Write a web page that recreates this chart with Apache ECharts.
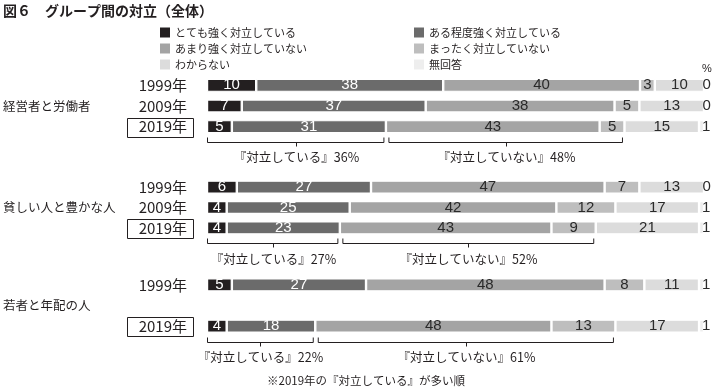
<!DOCTYPE html>
<html>
<head>
<meta charset="utf-8">
<script src="https://cdn.jsdelivr.net/npm/echarts@6/dist/echarts.min.js"></script>
<style>html,body{margin:0;padding:0;background:#fff}#c{width:714px;height:391px}</style>
</head>
<body>
<div id="c"></div>
<script>
// ---- data ----
const groups = ['経営者と労働者', '貧しい人と豊かな人', '若者と年配の人'];
const years = [['1999年', '2009年', '2019年'], ['1999年', '2009年', '2019年'], ['1999年', '', '2019年']];
const seriesNames = ['とても強く対立している', 'ある程度強く対立している', 'あまり強く対立していない', 'まったく対立していない', 'わからない', '無回答'];
const veryStrong   = [[10, 7, 5], [6, 4, 4], [5, null, 4]];
const fairlyStrong = [[38, 37, 31], [27, 25, 23], [27, null, 18]];
const notVery      = [[40, 38, 43], [47, 42, 43], [48, null, 48]];
const notAtAll     = [[3, 5, 5], [7, 12, 9], [8, null, 13]];
const dontKnow     = [[10, 13, 15], [13, 17, 21], [11, null, 17]];
const noAnswer     = [[0, 0, 1], [0, 1, 1], [1, null, 1]];
const footnote = '※2019年の『対立している』が多い順';

// ---- styling ----
const colors = ['#231f20', '#6b6b6b', '#a4a4a4', '#bebebe', '#dcdcdc', '#eeeeee'];
const labelColors = ['#ffffff', '#ffffff', '#2a2a2a', '#2a2a2a', '#2a2a2a', '#2a2a2a'];
const JP = 'Noto Sans CJK JP';
const NUM = 'Liberation Sans';
const allValues = [veryStrong, fairlyStrong, notVery, notAtAll, dontKnow, noAnswer];

const gridTops = [75, 177, 274.5];
const gridHeights = [62, 61, 62];

const grids = [], xAxes = [], yAxes = [], series = [];
groups.forEach((g, gi) => {
  grids.push({left: 207, width: 497, top: gridTops[gi], height: gridHeights[gi], containLabel: false, outerBoundsMode: 'none'});
  xAxes.push({type: 'value', gridIndex: gi, min: 0, max: 100, show: false});
  // year axis
  yAxes.push({
    type: 'category', gridIndex: gi, inverse: true, data: years[gi],
    axisLine: {show: false}, axisTick: {show: false}, splitLine: {show: false},
    axisLabel: {margin: 20, fontFamily: JP, fontSize: 15, color: '#231f20'}
  });
  // group-name axis
  yAxes.push({
    type: 'category', gridIndex: gi, inverse: true, position: 'left',
    data: ['', g, ''],
    axisLine: {show: false}, axisTick: {show: false}, splitLine: {show: false},
    axisLabel: {margin: 204, align: 'left', fontFamily: JP, fontSize: 12.5, color: '#231f20'}
  });

  const sums = [0, 1, 2].map(r => allValues.reduce((s, arr) => s + (arr[gi][r] || 0), 0));
  seriesNames.forEach((name, si) => {
    series.push({
      name, type: 'bar', stack: 'g' + gi, xAxisIndex: gi, yAxisIndex: gi * 2,
      barWidth: 13, clip: false,
      itemStyle: {color: colors[si], borderColor: '#fff', borderWidth: 1.2},
      label: {
        show: true,
        position: si === 5 ? 'right' : 'inside',
        distance: si === 5 ? -2 : 5,
        fontFamily: NUM, fontSize: 15, color: labelColors[si],
        formatter: p => p.data.raw
      },
      emphasis: {disabled: true},
      data: allValues[si][gi].map((v, r) => v === null ? {value: '-', raw: ''} : {value: v * 100 / sums[r], raw: v})
    });
  });

  // brackets under the 2019 row (+ frame around the 2019 year label)
  const r = 2;
  const a = veryStrong[gi][r] + fairlyStrong[gi][r];
  const b = notVery[gi][r] + notAtAll[gi][r];
  const n = v => v * 100 / sums[r];
  const bracketLabels = ['『対立している』' + a + '%', '『対立していない』' + b + '%'];
  series.push({
    type: 'custom', xAxisIndex: gi, yAxisIndex: gi * 2, clip: false, silent: true, z: 5,
    encode: {x: [0, 1], y: 2},
    data: [[0, n(a), r], [n(a), n(a + b), r]],
    renderItem: (params, api) => {
      const s = api.coord([api.value(0), api.value(2)]);
      const e = api.coord([api.value(1), api.value(2)]);
      const x1 = s[0] + (api.value(0) > 0 ? 3 : 0.5);
      const x2 = e[0] - 2;
      const cy = s[1];
      const y0 = Math.round(cy + 10.5) + 0.5, y1 = Math.round(cy + 15.5) + 0.5;
      const xm = Math.round((x1 + x2) / 2) + 0.5;
      const children = [
        {type: 'polyline', shape: {points: [[x1, y0], [x1, y1], [x2, y1], [x2, y0]]}, style: {stroke: '#231f20', lineWidth: 1, fill: null}},
        {type: 'line', shape: {x1: xm, y1: y1, x2: xm, y2: y1 + 4}, style: {stroke: '#231f20', lineWidth: 1}},
        {type: 'text', style: {text: bracketLabels[params.dataIndex], x: xm, y: cy + 31, align: 'center', verticalAlign: 'middle', fontFamily: JP, fontSize: 12.5, fill: '#231f20'}}
      ];
      if (params.dataIndex === 0) {
        const bx = Math.round(s[0] - 80) + 0.5, by = Math.round(cy - 9) + 0.5;
        children.push({type: 'rect', shape: {x: bx, y: by, width: 66, height: 19}, style: {stroke: '#231f20', lineWidth: 1, fill: null}});
      }
      return {type: 'group', children};
    }
  });
});

const legendCommon = {
  orient: 'vertical', top: 27, padding: 0, itemWidth: 10, itemHeight: 10, itemGap: 5, icon: 'rect',
  itemStyle: {borderWidth: 0}, selectedMode: false,
  textStyle: {fontFamily: JP, fontSize: 11, color: '#231f20'}
};

const chart = echarts.init(document.getElementById('c'), null, {renderer: 'canvas'});
chart.setOption({
  animation: false,
  backgroundColor: '#fff',
  title: [
    {text: '図６　グループ間の対立（全体）', left: 3, top: 4, padding: 0, textStyle: {fontFamily: JP, fontSize: 14, fontWeight: 'bold', color: '#231f20'}},
    {text: footnote, left: 267, top: 375, padding: 0, textStyle: {fontFamily: JP, fontSize: 11.5, fontWeight: 'normal', color: '#231f20'}},
    {text: '%', left: 702, top: 63, padding: 0, textStyle: {fontFamily: NUM, fontSize: 11, fontWeight: 'normal', color: '#231f20'}}
  ],
  legend: [
    Object.assign({left: 160, data: [seriesNames[0], seriesNames[2], seriesNames[4]]}, legendCommon),
    Object.assign({left: 414, data: [seriesNames[1], seriesNames[3], seriesNames[5]]}, legendCommon)
  ],
  grid: grids, xAxis: xAxes, yAxis: yAxes, series
});
</script>
</body>
</html>
